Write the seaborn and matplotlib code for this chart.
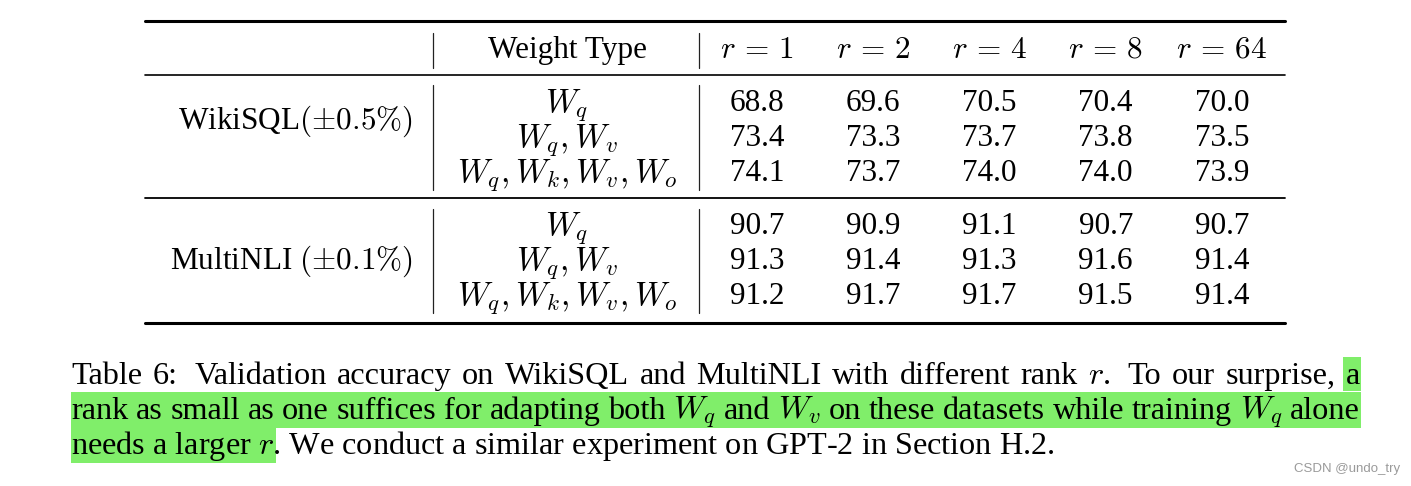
import pandas as pd
import seaborn as sns
import matplotlib.pyplot as plt
from matplotlib.colors import ListedColormap
from matplotlib.lines import Line2D
from matplotlib.patches import Rectangle
from matplotlib.transforms import blended_transform_factory, ScaledTranslation

# table contents
datasets = ['WikiSQL$(\\pm0.5\\%)$', 'MultiNLI $(\\pm0.1\\%)$']
weight_types = ['$W_q$', '$W_q, W_v$', '$W_q, W_k, W_v, W_o$']
ranks = ['$r\\,=\\,1$', '$r\\,=\\,2$', '$r\\,=\\,4$', '$r\\,=\\,8$', '$r\\,=\\,64$']
wikisql_acc = [[68.8, 69.6, 70.5, 70.4, 70.0],
               [73.4, 73.3, 73.7, 73.8, 73.5],
               [74.1, 73.7, 74.0, 74.0, 73.9]]
multinli_acc = [[90.7, 90.9, 91.1, 90.7, 90.7],
                [91.3, 91.4, 91.3, 91.6, 91.4],
                [91.2, 91.7, 91.7, 91.5, 91.4]]
caption_lines = [
    'Table 6: Validation accuracy on WikiSQL and MultiNLI with different rank $r$. To our surprise, a',
    'rank as small as one suffices for adapting both $W_q$ and $W_v$ on these datasets while training $W_q$ alone',
    'needs a larger $r$. We conduct a similar experiment on GPT-2 in Section H.2.',
]
highlight_tail = 'needs a larger $r$'

W, H = 1411, 486


def fx(px):
    return px / W


def fy(py):
    return 1 - py / H


sns.set_theme(style='white')
plt.rcParams['font.family'] = ['Liberation Serif', 'DejaVu Serif']
plt.rcParams['mathtext.fontset'] = 'cm'

fig = plt.figure(figsize=(W / 100, H / 100), dpi=100)
fig.patch.set_facecolor('white')
fs = 22.5
row_h = 35
col_left, col_right = 699, 1280
white = ListedColormap(['white'])
down = ScaledTranslation(0, -0.10, fig.dpi_scale_trans)  # baseline 10px below row centre

axes = []
for name, acc, top, label_row in zip(datasets, [wikisql_acc, multinli_acc],
                                     [83.5, 206.5], [1.0, 1.5]):
    df = pd.DataFrame(acc, index=weight_types, columns=ranks)
    ax = fig.add_axes([fx(col_left), fy(top + 3 * row_h),
                       fx(col_right) - fx(col_left), 3 * row_h / H])
    sns.heatmap(df, ax=ax, cmap=white, cbar=False, annot=True, fmt='.1f',
                xticklabels=False, yticklabels=False, linewidths=0,
                annot_kws=dict(fontsize=fs, color='black', va='baseline',
                               transform=ax.transData + down))
    base = blended_transform_factory(fig.transFigure, ax.transData) + down
    for i, wt in enumerate(df.index):
        ax.text(fx(567), i + 0.5, wt, transform=base, ha='center',
                va='baseline', fontsize=fs * 1.05, color='black')
    ax.text(fx(413), label_row, name, transform=base, ha='right',
            va='baseline', fontsize=fs, color='black')
    # vertical separators
    for xp in [433, 699]:
        fig.add_artist(Line2D([fx(xp), fx(xp)], [fy(top + 2), fy(top + 3 * row_h + 1)],
                              color='#222222', lw=0.9, zorder=5))
    axes.append(ax)

# header row
head = blended_transform_factory(axes[0].transData, fig.transFigure)
for j, rk in enumerate(ranks):
    axes[0].text(j + 0.5, fy(58), rk, transform=head, ha='center',
                 va='baseline', fontsize=fs, color='black')
fig.text(fx(567), fy(58), 'Weight Type', ha='center', va='baseline',
         fontsize=fs, color='black')
for xp in [433, 699]:
    fig.add_artist(Line2D([fx(xp), fx(xp)], [fy(33), fy(68)],
                          color='#222222', lw=0.9, zorder=5))

# horizontal rules
for yp, lw in [(21, 2.2), (75, 1.2), (198, 1.3), (323, 2.2)]:
    fig.add_artist(Line2D([fx(145), fx(1285)], [fy(yp), fy(yp)],
                          color='black', lw=lw, zorder=5))

# caption
renderer = fig.canvas.get_renderer()


def text_width(s, size):
    t = fig.text(0, 0, s, fontsize=size)
    w = t.get_window_extent(renderer).width
    t.remove()
    return w


cap_left, cap_right = 71, 1360
cap_fs = fs * (1055 - cap_left) / text_width(caption_lines[2], fs)
hl = '#80EE6A'


def justify(line, y_px):
    words = line.split(' ')
    widths = [text_width(w, cap_fs) for w in words]
    weights = [1.6 if w.endswith(('.', ':')) else 1.0 for w in words[:-1]]
    gap = (cap_right - cap_left - sum(widths)) / sum(weights)
    x = cap_left
    lefts = []
    for w, wd, wt in zip(words, widths, weights + [0]):
        fig.text(fx(x), fy(y_px), w, fontsize=cap_fs, va='baseline',
                 color='black', zorder=3)
        lefts.append(x)
        x += wd + gap * wt
    return lefts


baselines = [384, 419, 454]
lefts = justify(caption_lines[0], baselines[0])
fig.add_artist(Rectangle((fx(lefts[-1] - 3), fy(391)), fx(cap_right + 1) - fx(lefts[-1] - 3),
                         34 / H, color=hl, lw=0, zorder=1))
justify(caption_lines[1], baselines[1])
fig.add_artist(Rectangle((fx(cap_left), fy(428)), fx(cap_right + 1) - fx(cap_left),
                         36 / H, color=hl, lw=0, zorder=1))
fig.text(fx(cap_left), fy(baselines[2]), caption_lines[2], fontsize=cap_fs,
         va='baseline', color='black', zorder=3)
tail_w = text_width(highlight_tail, cap_fs)
fig.add_artist(Rectangle((fx(cap_left), fy(463)), tail_w / W + 2 / W,
                         35 / H, color=hl, lw=0, zorder=1))

fig.text(fx(1400), fy(469), 'CSDN @undo_try', ha='right', va='center',
         fontsize=9.5, color='#9a9a9a', family='Liberation Sans')

fig.savefig('out.png', dpi=100, facecolor='white')
